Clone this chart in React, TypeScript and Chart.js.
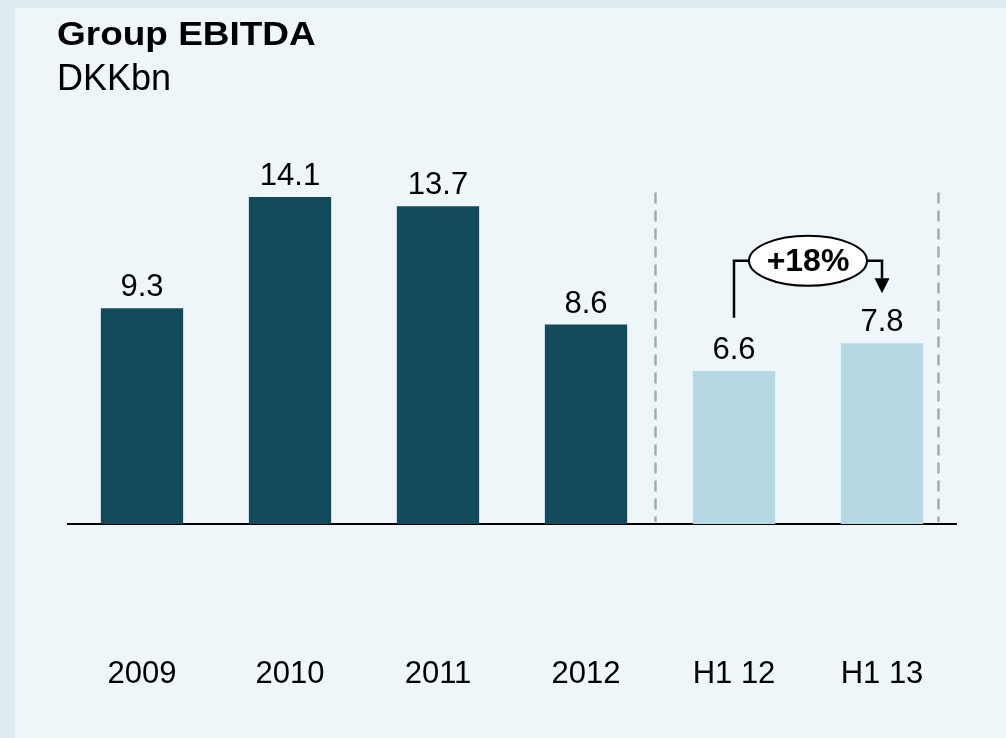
import React, { useEffect, useRef } from "react";
import { Chart, registerables } from "chart.js";

Chart.register(...registerables);

// ---- data ----
const categories: string[] = ["2009", "2010", "2011", "2012", "H1 12", "H1 13"];
const ebitda: number[] = [9.3, 14.1, 13.7, 8.6, 6.6, 7.8];
const valueLabels: string[] = ["9.3", "14.1", "13.7", "8.6", "6.6", "7.8"];
const isHalfYear: boolean[] = [false, false, false, false, true, true];
const titleText = "Group EBITDA";
const unitText = "DKKbn";
const growthText = "+18%";
const growthFrom = 4; // index of H1 12
const growthTo = 5; // index of H1 13

// ---- style ----
const DARK = "#124a5c";
const LIGHT = "#b5d8e2";
const FONT = "'Liberation Sans', Arial, Helvetica, sans-serif";
const separatorsAt = [3.466, 5.378];
const separatorTop = 14.3;
const bracketLevel = 11.35;
const bracketLeftBottom = 8.9;
const arrowBase = 10.6;
const arrowTip = 9.95;
const categoryLabelOffset = 159; // px below the axis line to label baseline

const overlayPlugin = {
  id: "overlay",
  afterDatasetsDraw(chart: any) {
    const ctx: CanvasRenderingContext2D = chart.ctx;
    const xs = chart.scales.x;
    const ys = chart.scales.y;
    const meta = chart.getDatasetMeta(0);
    ctx.save();
    // value labels
    ctx.fillStyle = "#000";
    ctx.font = `31px ${FONT}`;
    ctx.textAlign = "center";
    ctx.textBaseline = "alphabetic";
    meta.data.forEach((bar: any, i: number) => {
      ctx.fillText(valueLabels[i], bar.x, bar.y - 12);
    });
    // category labels
    const base = ys.getPixelForValue(0);
    categories.forEach((c, i) => {
      ctx.fillText(c, xs.getPixelForValue(i), base + categoryLabelOffset);
    });
    // dashed separators
    ctx.strokeStyle = "#aaaaaa";
    ctx.lineWidth = 2.5;
    ctx.setLineDash([11, 7]);
    separatorsAt.forEach((v) => {
      const x = Math.round(xs.getPixelForValue(v)) + 0.5;
      ctx.beginPath();
      ctx.moveTo(x, ys.getPixelForValue(separatorTop));
      ctx.lineTo(x, base - 2);
      ctx.stroke();
    });
    ctx.setLineDash([]);
    // growth bracket
    const x1 = xs.getPixelForValue(growthFrom);
    const x2 = xs.getPixelForValue(growthTo);
    const cx = (x1 + x2) / 2;
    const by = ys.getPixelForValue(bracketLevel);
    const rx = 59;
    const ry = 25;
    ctx.strokeStyle = "#000";
    ctx.lineWidth = 2.5;
    ctx.beginPath();
    ctx.moveTo(x1, ys.getPixelForValue(bracketLeftBottom));
    ctx.lineTo(x1, by);
    ctx.lineTo(cx - rx, by);
    ctx.moveTo(cx + rx, by);
    ctx.lineTo(x2, by);
    ctx.lineTo(x2, ys.getPixelForValue(arrowBase));
    ctx.stroke();
    ctx.fillStyle = "#000";
    ctx.beginPath();
    ctx.moveTo(x2 - 7.5, ys.getPixelForValue(arrowBase));
    ctx.lineTo(x2 + 7.5, ys.getPixelForValue(arrowBase));
    ctx.lineTo(x2, ys.getPixelForValue(arrowTip));
    ctx.closePath();
    ctx.fill();
    ctx.beginPath();
    ctx.ellipse(cx, by, rx, ry, 0, 0, Math.PI * 2);
    ctx.fillStyle = "#ffffff";
    ctx.fill();
    ctx.lineWidth = 2;
    ctx.stroke();
    ctx.fillStyle = "#000";
    ctx.font = `bold 32px ${FONT}`;
    ctx.textBaseline = "middle";
    ctx.fillText(growthText, cx, by + 1);
    ctx.restore();
  },
};

export default function App() {
  const canvasRef = useRef<HTMLCanvasElement | null>(null);

  useEffect(() => {
    if (!canvasRef.current) return;
    const chart = new Chart(canvasRef.current, {
      type: "bar",
      data: {
        labels: categories,
        datasets: [
          {
            data: ebitda,
            backgroundColor: isHalfYear.map((h) => (h ? LIGHT : DARK)),
            borderWidth: 0,
            barPercentage: 0.556,
            categoryPercentage: 1,
          },
        ],
      },
      options: {
        responsive: false,
        animation: false,
        events: [],
        layout: { padding: { left: 68, right: 50, top: 153, bottom: 214 } },
        plugins: {
          legend: { display: false },
          tooltip: { enabled: false },
          title: { display: false },
        },
        scales: {
          x: {
            grid: { display: false, drawTicks: false },
            border: { display: true, color: "#000", width: 2 },
            ticks: { display: false },
          },
          y: {
            display: false,
            min: 0,
            max: 16,
          },
        },
      },
      plugins: [overlayPlugin],
    });
    return () => chart.destroy();
  }, []);

  return (
    <div
      style={{
        position: "absolute",
        left: 0,
        top: 0,
        width: 1006,
        height: 738,
        background: "#e0ebf1",
        overflow: "hidden",
      }}
    >
      <div
        style={{
          position: "absolute",
          left: 15,
          top: 8,
          right: 0,
          bottom: 0,
          background: "#eef6f9",
        }}
      />
      <canvas
        ref={canvasRef}
        width={1006}
        height={738}
        style={{ position: "absolute", left: 0, top: 0, display: "block" }}
      />
      <div
        style={{
          position: "absolute",
          left: 57,
          top: 17,
          fontFamily: FONT,
          fontWeight: "bold",
          fontSize: 33,
          lineHeight: "34px",
          color: "#000",
          transformOrigin: "left top",
          transform: "scaleX(1.12)",
          whiteSpace: "nowrap",
        }}
      >
        {titleText}
      </div>
      <div
        style={{
          position: "absolute",
          left: 57,
          top: 59,
          fontFamily: FONT,
          fontSize: 36,
          lineHeight: "38px",
          color: "#000",
          whiteSpace: "nowrap",
        }}
      >
        {unitText}
      </div>
    </div>
  );
}
